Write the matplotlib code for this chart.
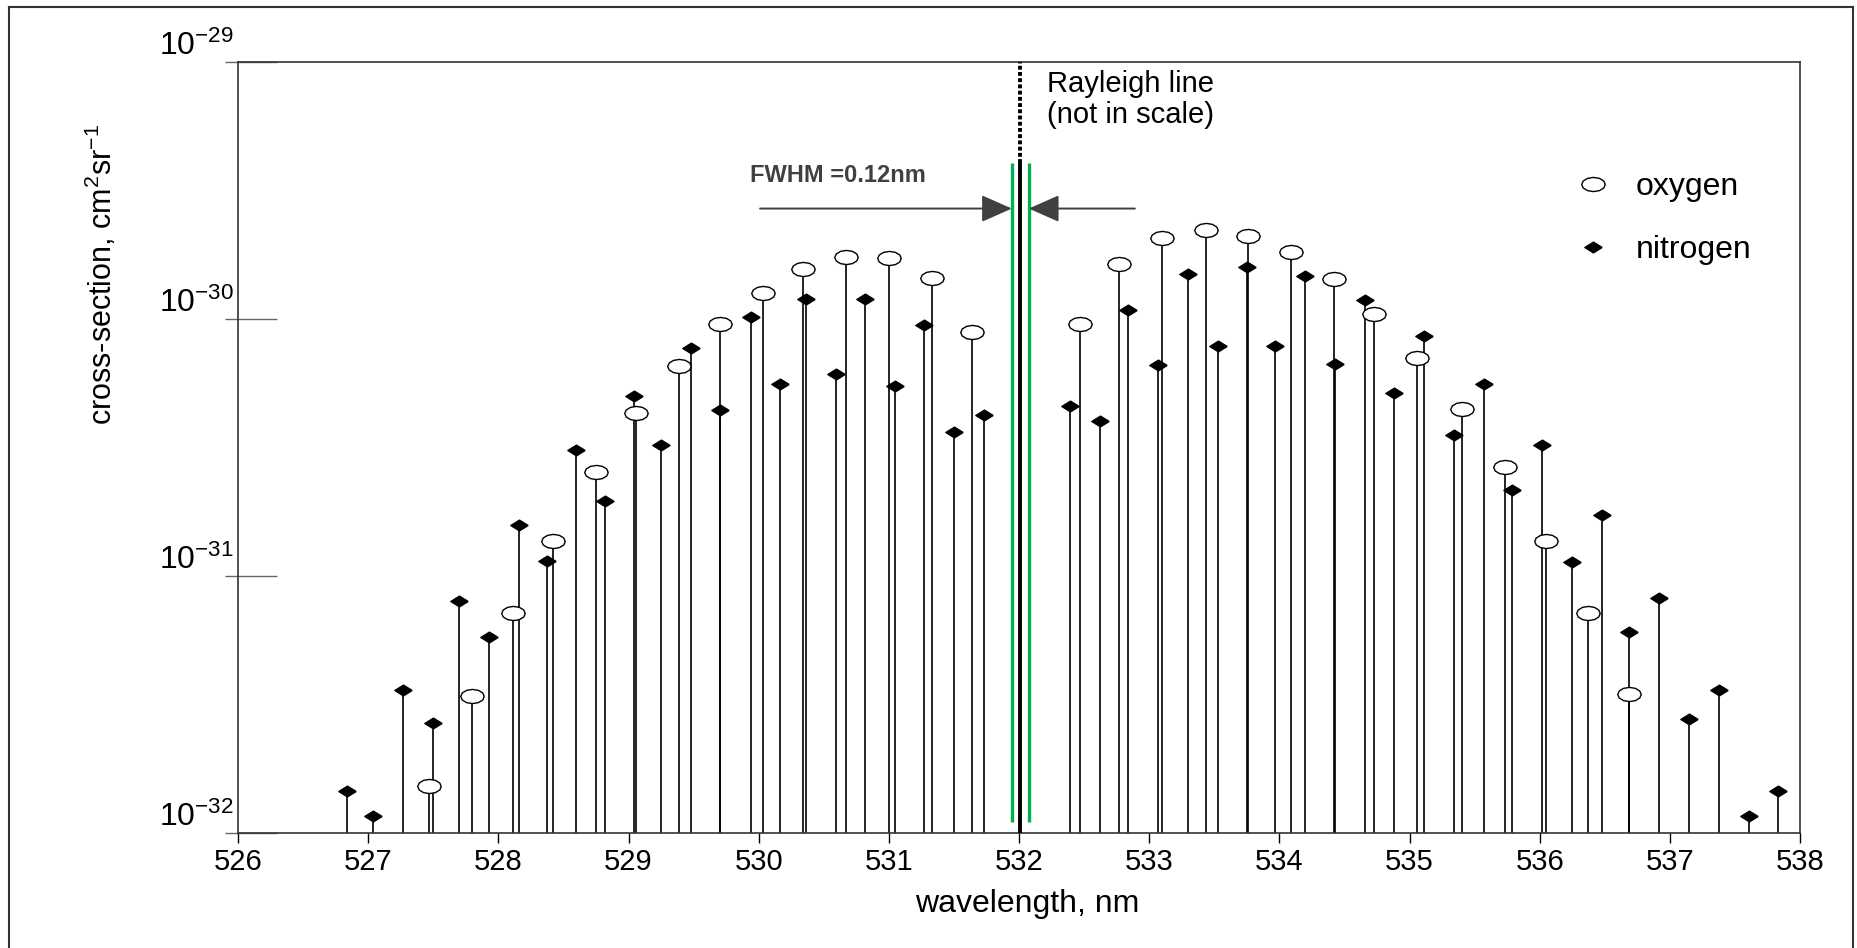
import numpy as np
import matplotlib.pyplot as plt
from matplotlib.path import Path
from matplotlib.lines import Line2D
from matplotlib.ticker import FixedLocator, NullFormatter

plt.rcParams['font.family'] = ['Liberation Sans', 'DejaVu Sans']
plt.rcParams['mathtext.default'] = 'regular'

# oxygen rotational Raman lines (nm, cm^2 sr^-1)
o_nm = [527.47, 527.80, 528.11, 528.42, 528.75, 529.06, 529.39, 529.70,
        530.03, 530.34, 530.67, 531.00, 531.33, 531.64,
        532.47, 532.77, 533.10, 533.44, 533.76, 534.09, 534.42, 534.73,
        535.06, 535.40, 535.73, 536.05, 536.37, 536.69]
o_val = [1.53e-32, 3.40e-32, 7.16e-32, 1.37e-31, 2.54e-31, 4.29e-31, 6.55e-31, 9.59e-31,
         1.26e-30, 1.56e-30, 1.74e-30, 1.72e-30, 1.44e-30, 8.87e-31,
         9.59e-31, 1.64e-30, 2.07e-30, 2.22e-30, 2.11e-30, 1.82e-30, 1.43e-30, 1.05e-30,
         7.05e-31, 4.47e-31, 2.65e-31, 1.37e-31, 7.21e-32, 3.47e-32]

# nitrogen rotational Raman lines
n_nm = [526.84, 527.04, 527.27, 527.50, 527.70, 527.93, 528.16, 528.37,
        528.60, 528.82, 529.04, 529.25, 529.48, 529.70, 529.94, 530.16,
        530.36, 530.59, 530.82, 531.05, 531.27, 531.50, 531.73,
        532.39, 532.62, 532.84, 533.07, 533.30, 533.53, 533.75, 533.97,
        534.20, 534.43, 534.66, 534.88, 535.11, 535.34, 535.57, 535.79,
        536.02, 536.25, 536.48, 536.69, 536.92, 537.15, 537.38, 537.61, 537.83]
n_val = [1.46e-32, 1.16e-32, 3.59e-32, 2.69e-32, 7.96e-32, 5.77e-32, 1.58e-31, 1.14e-31,
         3.08e-31, 1.95e-31, 5.00e-31, 3.22e-31, 7.69e-31, 4.43e-31, 1.02e-30, 5.58e-31,
         1.20e-30, 6.12e-31, 1.20e-30, 5.51e-31, 9.51e-31, 3.62e-31, 4.24e-31,
         4.57e-31, 4.00e-31, 1.08e-30, 6.61e-31, 1.49e-30, 7.83e-31, 1.60e-30, 7.83e-31,
         1.47e-30, 6.70e-31, 1.19e-30, 5.15e-31, 8.61e-31, 3.53e-31, 5.58e-31, 2.16e-31,
         3.22e-31, 1.13e-31, 1.72e-31, 6.05e-32, 8.22e-32, 2.77e-32, 3.59e-32, 1.16e-32, 1.46e-32]

# Rayleigh line and filter edges
rayleigh_nm = 532.01
rayleigh_dotted_top = 1e-29
rayleigh_solid_top = 4.05e-30
filter_nm = [531.945, 532.075]
filter_bottom = 1.10e-32
arrow_y = 2.69e-30
arrow_left_start = 530.01
arrow_right_start = 532.89

x_ticks = list(range(526, 539))
y_ticks = [1e-32, 1e-31, 1e-30, 1e-29]
y_ticklabels = [r'$10^{-32}$', r'$10^{-31}$', r'$10^{-30}$', r'$10^{-29}$']
y_floor = 1e-32

# flattened ellipse and diamond markers like the original
t = np.linspace(0, 2 * np.pi, 13)
ellipse = Path(np.column_stack([np.cos(t), 0.6 * np.sin(t)]))
diamond = Path([(1, 0), (0, 0.62), (-1, 0), (0, -0.62), (1, 0)])

fig = plt.figure(figsize=(18.57, 9.48), dpi=100)
ax = fig.add_axes([0.1282, 0.1213, 0.8411, 0.8133])

ax.set_yscale('log')
ax.set_xlim(526, 538)
ax.set_ylim(1e-32, 1e-29)

ax.vlines(o_nm, y_floor, o_val, color='black', lw=1.2, zorder=2)
ax.vlines(n_nm, y_floor, n_val, color='black', lw=1.2, zorder=2)
ax.plot(o_nm, o_val, ls='none', marker=ellipse, ms=17, mfc='white', mec='black',
        mew=1.0, zorder=4, label='oxygen')
ax.plot(n_nm, n_val, ls='none', marker=diamond, ms=12.5, color='black', zorder=5,
        label='nitrogen')

# Rayleigh line (not in scale) and filter
ax.vlines(rayleigh_nm, rayleigh_solid_top, rayleigh_dotted_top, color='black', lw=2.8,
          linestyles=(0, (1, 0.6)), zorder=3)
ax.vlines(rayleigh_nm, y_floor, rayleigh_solid_top, color='black', lw=2.8, zorder=3)
ax.vlines(filter_nm, filter_bottom, rayleigh_solid_top, color='#00b050', lw=2.4, zorder=3)

arrow_kw = dict(arrowstyle='-|>,head_length=0.95,head_width=0.42', color='#404040',
                lw=1.4, shrinkA=0, shrinkB=0, mutation_scale=20)
ax.annotate('', xy=(filter_nm[0], arrow_y), xytext=(arrow_left_start, arrow_y),
            arrowprops=arrow_kw)
ax.annotate('', xy=(filter_nm[1], arrow_y), xytext=(arrow_right_start, arrow_y),
            arrowprops=arrow_kw)
ax.text(529.93, 3.42e-30, 'FWHM =0.12nm', fontsize=17, fontweight='bold',
        color='#404040', va='baseline')
ax.text(532.215, 9.3e-30, 'Rayleigh line\n(not in scale)', fontsize=21, va='top',
        linespacing=1.15)

# ticks
ax.set_xticks(x_ticks)
ax.tick_params(axis='x', direction='out', length=7, width=1, pad=4, labelsize=21,
               colors='black')
ax.set_yticks(y_ticks)
ax.set_yticklabels(y_ticklabels)
ax.yaxis.set_minor_locator(FixedLocator(y_ticks))
ax.yaxis.set_minor_formatter(NullFormatter())
ax.yaxis.remove_overlapping_locs = False
ax.tick_params(axis='y', which='major', direction='in', length=28, width=1,
               color='#666666', pad=3, labelsize=23)
ax.tick_params(axis='y', which='minor', direction='out', length=9.5, width=1,
               color='#666666')
for lab in ax.get_yticklabels():
    lab.set_verticalalignment('bottom')

for s in ax.spines.values():
    s.set_color('#333333')
    s.set_linewidth(1.2)

ax.set_xlabel('wavelength, nm', fontsize=23)
ax.xaxis.set_label_coords(0.505, -0.072)
ax.set_ylabel(r'cross-section, cm$^{2}$sr$^{-1}$', fontsize=22)
ax.yaxis.set_label_coords(-0.076, 0.725)

ax.legend(loc='center left', bbox_to_anchor=(0.8405, 0.7695), bbox_transform=fig.transFigure,
          frameon=False, fontsize=23, numpoints=1, borderpad=0, handlelength=1.0,
          handletextpad=0.85, labelspacing=1.05)

# outer frame of the original figure
frame_kw = dict(color='#333333', lw=1.5, transform=fig.transFigure)
fig.add_artist(Line2D([0.0048, 0.9978], [0.9926, 0.9926], **frame_kw))
fig.add_artist(Line2D([0.0048, 0.0048], [0.0, 0.9926], **frame_kw))
fig.add_artist(Line2D([0.9978, 0.9978], [0.0, 0.9926], **frame_kw))

fig.savefig('out.png', dpi=100)
